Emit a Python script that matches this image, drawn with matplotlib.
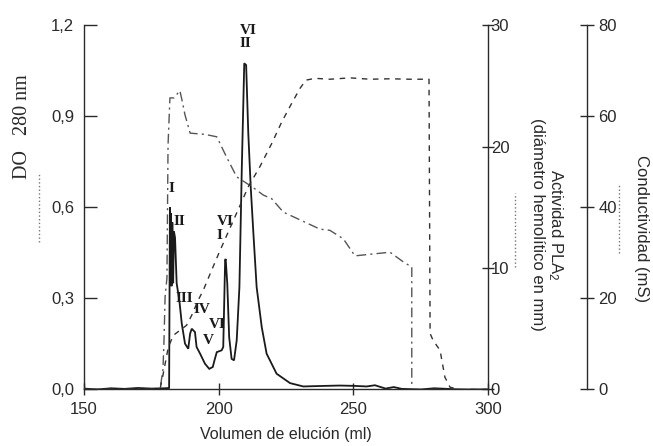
import matplotlib
matplotlib.use('Agg')
import matplotlib.pyplot as plt
from matplotlib.lines import Line2D

plt.rcParams['font.family'] = ['Liberation Sans', 'DejaVu Sans']
plt.rcParams['mathtext.fontset'] = 'custom'
plt.rcParams['mathtext.rm'] = 'Liberation Sans'
plt.rcParams['mathtext.it'] = 'Liberation Sans:italic'

# ---------------- data ----------------
# Absorbance at 280 nm (left axis)
vol_do = [150, 155, 160, 165, 170, 175, 180, 181.6, 181.9, 182.1, 182.3, 182.5, 182.8, 183.1,
          183.4, 183.8, 184.4, 185.4, 186.3, 187.5, 188.7, 189.4, 190.0, 191.2, 191.8, 193.1,
          194.9, 196.5, 197.8, 198.6, 199.3, 201.1, 201.7, 202.4, 202.6, 203.2, 203.9, 204.8,
          205.7, 206.7, 207.7, 208.6, 209.5, 210.2, 211.0, 211.9, 212.9, 214.1, 216.0, 217.8,
          221.5, 226.5, 231.4, 240, 245, 250, 255, 258, 262, 265, 268, 275, 280, 290, 300]
do280 = [0.003, 0.0, 0.004, 0.002, 0.005, 0.003, 0.004, 0.005, 0.60, 0.36, 0.58, 0.34, 0.55, 0.35,
         0.52, 0.50, 0.35, 0.293, 0.217, 0.151, 0.134, 0.184, 0.200, 0.189, 0.140, 0.118,
         0.085, 0.068, 0.074, 0.101, 0.123, 0.129, 0.140, 0.425, 0.430, 0.348, 0.172, 0.101,
         0.096, 0.162, 0.337, 0.733, 1.074, 1.068, 0.843, 0.667, 0.513, 0.337, 0.205, 0.118,
         0.052, 0.021, 0.010, 0.012, 0.013, 0.012, 0.010, 0.014, 0.003, 0.008, 0.002, 0.0, 0.004, 0.0, 0.0]

# PLA2 activity (hemolytic diameter, mm)
vol_pla2 = [150, 178.2, 179.3, 179.7, 180.1, 180.8, 181.2, 181.9, 183.4, 185.6, 186.4, 187.5,
            189.4, 194.9, 199.3, 203.0, 206.7, 212.3, 216.6, 219.7, 224.0, 230.8, 237.6,
            241.3, 246.3, 250.6, 263.6, 269.2, 271.7, 271.7, 300]
pla2 = [0, 0, 1.6, 4.0, 7.6, 9.2, 20.1, 24.0, 24.0, 24.6, 23.8, 22.6,
        21.1, 21.0, 20.8, 19.1, 17.5, 16.7, 16.0, 15.7, 14.6, 13.9, 13.2,
        13.1, 12.4, 11.0, 11.3, 10.4, 10.1, 0, 0]

# Conductivity (mS)
vol_cond = [150, 178.2, 179.3, 181.3, 183.2, 188.1, 190.0, 192.4, 194.3, 197.4, 200.5, 211.0,
            215.3, 219.7, 223.4, 227.1, 230.2, 232.4, 235.8, 241.3, 248.8, 256.2, 263.6,
            271.0, 278.1, 278.5, 279.6, 282.2, 284.0, 285.9, 289.6, 300]
cond = [0, 0, 3.1, 9.3, 11.9, 14.1, 16.3, 19.6, 21.8, 26.2, 30.5, 44.5,
        48.9, 54.0, 58.7, 62.8, 66.1, 67.9, 68.3, 68.1, 68.4, 68.1, 68.2,
        68.1, 68.1, 12.3, 10.8, 8.6, 2.7, 0.5, 0, 0]

# Peak labels
peak_labels = ['I', 'II', 'III', 'IV', 'V', 'VI', 'VI\nI', 'VI\nII']
peak_x = [182.6, 185.6, 187.2, 193.7, 196.1, 199.3, 202.4, 211.0]
peak_y = [0.662, 0.552, 0.299, 0.263, 0.161, 0.214, 0.53, 1.16]

x_ticks = [150, 200, 250, 300]
x_tick_labels = ['150', '200', '250', '300']
do_ticks = [0.0, 0.3, 0.6, 0.9, 1.2]
do_tick_labels = ['0,0', '0,3', '0,6', '0,9', '1,2']
pla2_ticks = [0, 10, 20, 30]
pla2_tick_labels = ['0', '10', '20', '30']
cond_ticks = [0, 20, 40, 60, 80]
cond_tick_labels = ['0', '20', '40', '60', '80']

# ---------------- figure ----------------
ink = '#2a2a2a'
fig = plt.figure(figsize=(6.53, 4.46), dpi=100)
ax = fig.add_axes([0.12864, 0.1267, 0.61868, 0.8172])
ax2 = ax.twinx()
ax3 = ax.twinx()

ax.plot(vol_do, do280, color='#1a1a1a', lw=1.3, solid_joinstyle='miter')
ax2.plot(vol_pla2, pla2, color='#555555', lw=1.0, dashes=(7, 3, 1.5, 3))
ax3.plot(vol_cond, cond, color='#333333', lw=1.0, dashes=(4, 4))

ax.set_xlim(150, 300)
ax.set_ylim(0, 1.2)
ax2.set_ylim(0, 30)
ax3.set_ylim(0, 80)

for a in (ax, ax2, ax3):
    a.spines['top'].set_visible(False)
    for s in a.spines.values():
        s.set_color(ink)
        s.set_linewidth(1.0)
ax.spines['right'].set_visible(False)
for a in (ax2, ax3):
    a.spines['left'].set_visible(False)
    a.spines['bottom'].set_visible(False)
ax3.spines['right'].set_position(('axes', 1.245))

ax.set_xticks(x_ticks)
ax.set_xticklabels(x_tick_labels)
ax.set_yticks(do_ticks)
ax.set_yticklabels(do_tick_labels)
ax2.set_yticks(pla2_ticks)
ax2.set_yticklabels(pla2_tick_labels)
ax3.set_yticks(cond_ticks)
ax3.set_yticklabels(cond_tick_labels)

ax.tick_params(axis='y', direction='in', length=9, width=1, pad=7, labelsize=12,
               colors=ink, left=True, right=False)
ax.tick_params(axis='x', direction='inout', length=9, width=1, pad=4.5, labelsize=12,
               colors=ink)
ax2.tick_params(axis='y', direction='inout', length=9, width=1, pad=-2.5, labelsize=12,
                colors=ink)
ax3.tick_params(axis='y', direction='inout', length=10, width=1, pad=3.2, labelsize=12,
                colors=ink)

ax.set_xlabel('Volumen de elución (ml)', fontsize=11.5, color=ink, labelpad=7)

ax.text(-0.153, 0.72, 'DO   280 nm', transform=ax.transAxes, rotation=90,
        ha='center', va='center', fontsize=14.5, color=ink,
        family=['Liberation Serif', 'DejaVu Serif'])
ax.text(1.147, 0.452, 'Actividad PLA$_2$\n(diámetro hemolítico en mm)',
        transform=ax.transAxes, rotation=-90, ha='center', va='center',
        multialignment='center', fontsize=12, color=ink, linespacing=1.15)
ax.text(1.381, 0.442, 'Conductividad (mS)', transform=ax.transAxes, rotation=-90,
        ha='center', va='center', fontsize=12, color=ink)

for lab, xx, yy in zip(peak_labels, peak_x, peak_y):
    ax.text(xx, yy, lab, ha='center', va='center', multialignment='left',
            fontsize=11, fontweight='bold', color='#1a1a1a', linespacing=1.05,
            family=['Liberation Serif', 'DejaVu Serif'])

# line-style keys next to the axis titles
fig.add_artist(Line2D([0.0597, 0.0597], [0.457, 0.614], transform=fig.transFigure,
                      color='#777777', lw=1.0, ls=':'))
fig.add_artist(Line2D([0.7887, 0.7887], [0.4013, 0.5673], transform=fig.transFigure,
                      color='#777777', lw=1.0, ls=':'))
fig.add_artist(Line2D([0.9479, 0.9479], [0.4327, 0.5852], transform=fig.transFigure,
                      color='#777777', lw=1.0, ls=':'))

fig.savefig('out.png', dpi=100)
